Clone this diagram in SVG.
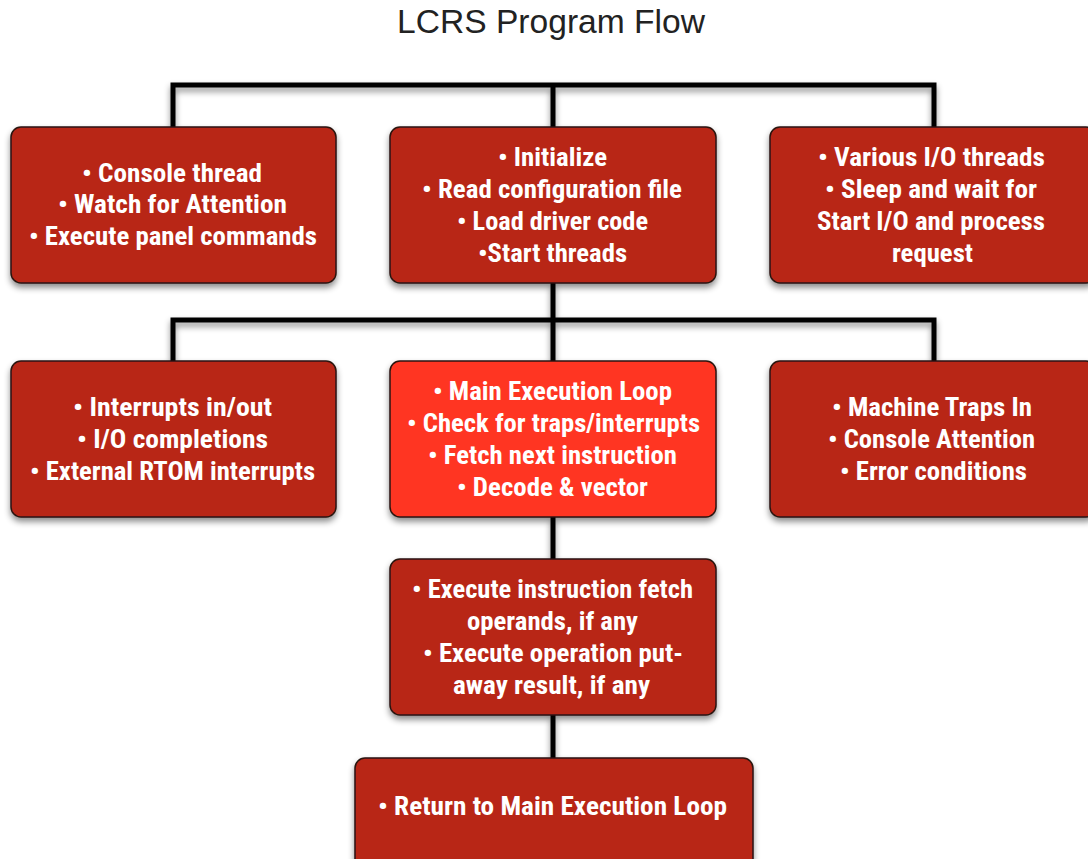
<svg xmlns="http://www.w3.org/2000/svg" width="1088" height="859" viewBox="0 0 1088 859">
<defs>
<filter id="sh" filterUnits="userSpaceOnUse" x="0" y="0" width="1088" height="900">
<feDropShadow dx="0" dy="4" stdDeviation="3" flood-color="#000" flood-opacity="0.45"/>
</filter>
<style>
.box{fill:#B82518;stroke:#2a1410;stroke-width:1.5;filter:url(#sh)}
.hot{fill:#FF3520}
.t{font-family:"Liberation Sans Narrow","Roboto Condensed",Roboto,"Liberation Sans",Arial,sans-serif;font-weight:bold;font-size:26px;fill:#fff;text-anchor:middle}
.ln{fill:none;stroke:#000;stroke-width:5;stroke-linejoin:miter;filter:url(#sh)}
.title{font-family:"Liberation Sans",Arial,sans-serif;font-size:33px;fill:#222;text-anchor:middle}
</style>
</defs>
<rect width="1088" height="859" fill="#fff"/>
<text class="title" x="551" y="33" textLength="308" lengthAdjust="spacingAndGlyphs">LCRS Program Flow</text>
<g id="connectors">
<path class="ln" d="M173,127 V85 H934 V127 M553,85 V127"/>
<path class="ln" d="M173,361 V320 H934 V361 M553,283 V361"/>
<path class="ln" d="M553,517 V559"/>
<path class="ln" d="M553,715 V758"/>
</g>
<g id="n1">
<rect class="box" x="11" y="127" width="325" height="156" rx="10"/>
<text class="t" x="172" y="182" textLength="180" lengthAdjust="spacingAndGlyphs">• Console thread</text>
<text class="t" x="172.5" y="213" textLength="229" lengthAdjust="spacingAndGlyphs">• Watch for Attention</text>
<text class="t" x="173" y="245" textLength="288" lengthAdjust="spacingAndGlyphs">• Execute panel commands</text>
</g>
<g id="n2">
<rect class="box" x="390" y="127" width="326" height="156" rx="10"/>
<text class="t" x="552.5" y="165.5" textLength="109" lengthAdjust="spacingAndGlyphs">• Initialize</text>
<text class="t" x="552" y="197.5" textLength="260" lengthAdjust="spacingAndGlyphs">• Read configuration file</text>
<text class="t" x="552.5" y="229.5" textLength="191" lengthAdjust="spacingAndGlyphs">• Load driver code</text>
<text class="t" x="552.5" y="261.5" textLength="149" lengthAdjust="spacingAndGlyphs">•Start threads</text>
</g>
<g id="n3">
<rect class="box" x="770" y="127" width="326" height="156" rx="10"/>
<text class="t" x="931.5" y="165.5" textLength="227" lengthAdjust="spacingAndGlyphs">• Various I/O threads</text>
<text class="t" x="931" y="197.5" textLength="212" lengthAdjust="spacingAndGlyphs">• Sleep and wait for</text>
<text class="t" x="931" y="229.5" textLength="228" lengthAdjust="spacingAndGlyphs">Start I/O and process</text>
<text class="t" x="932.5" y="261.5" textLength="81" lengthAdjust="spacingAndGlyphs">request</text>
</g>
<g id="n4">
<rect class="box" x="11" y="361" width="325" height="156" rx="10"/>
<text class="t" x="172.5" y="415.5" textLength="199" lengthAdjust="spacingAndGlyphs">• Interrupts in/out</text>
<text class="t" x="172.5" y="447.5" textLength="191" lengthAdjust="spacingAndGlyphs">• I/O completions</text>
<text class="t" x="172.5" y="479.5" textLength="285" lengthAdjust="spacingAndGlyphs">• External RTOM interrupts</text>
</g>
<g id="n5">
<rect class="box hot" x="390" y="361" width="326" height="156" rx="10"/>
<text class="t" x="552.5" y="399.5" textLength="239" lengthAdjust="spacingAndGlyphs">• Main Execution Loop</text>
<text class="t" x="553.5" y="431.5" textLength="293" lengthAdjust="spacingAndGlyphs">• Check for traps/interrupts</text>
<text class="t" x="552.5" y="463.5" textLength="249" lengthAdjust="spacingAndGlyphs">• Fetch next instruction</text>
<text class="t" x="552.5" y="495.5" textLength="191" lengthAdjust="spacingAndGlyphs">• Decode &amp; vector</text>
</g>
<g id="n6">
<rect class="box" x="770" y="361" width="326" height="156" rx="10"/>
<text class="t" x="932" y="415.5" textLength="200" lengthAdjust="spacingAndGlyphs">• Machine Traps In</text>
<text class="t" x="931.5" y="447.5" textLength="207" lengthAdjust="spacingAndGlyphs">• Console Attention</text>
<text class="t" x="933.5" y="479.5" textLength="187" lengthAdjust="spacingAndGlyphs">• Error conditions</text>
</g>
<g id="n7">
<rect class="box" x="390" y="559" width="326" height="156" rx="10"/>
<text class="t" x="552.5" y="597.5" textLength="281" lengthAdjust="spacingAndGlyphs">• Execute instruction fetch</text>
<text class="t" x="552.5" y="629.5" textLength="171" lengthAdjust="spacingAndGlyphs">operands, if any</text>
<text class="t" x="553" y="662" textLength="260" lengthAdjust="spacingAndGlyphs">• Execute operation put-</text>
<text class="t" x="551.5" y="694" textLength="197" lengthAdjust="spacingAndGlyphs">away result, if any</text>
</g>
<g id="n8">
<rect class="box" x="355" y="758" width="398" height="115" rx="10"/>
<text class="t" x="552.5" y="815" textLength="349" lengthAdjust="spacingAndGlyphs">• Return to Main Execution Loop</text>
</g>
</svg>
